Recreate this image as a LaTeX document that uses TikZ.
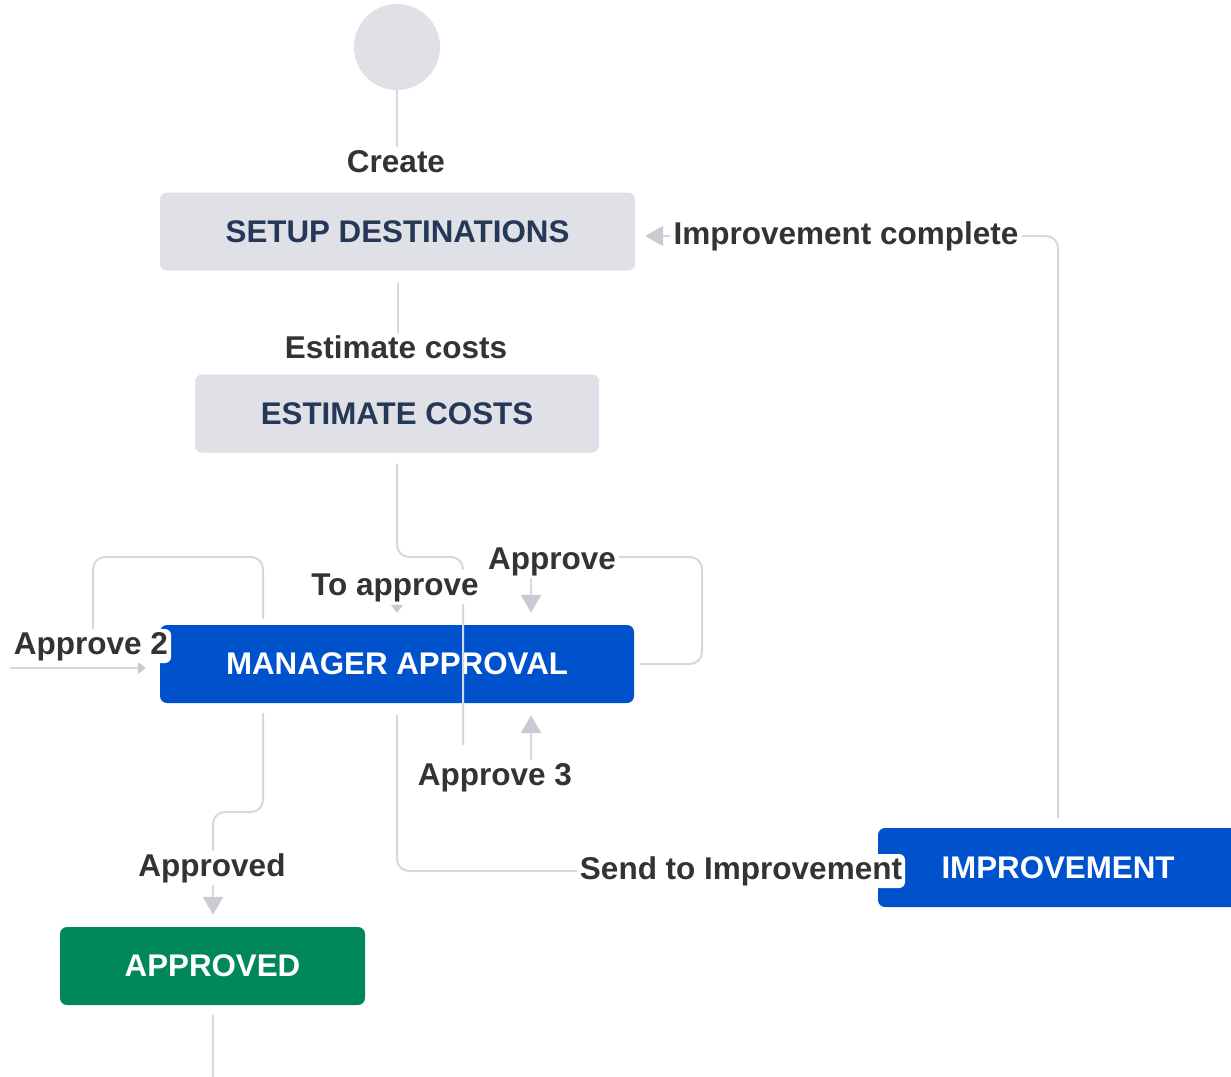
\documentclass[tikz,border=0pt]{standalone}
\usepackage{fontspec}
\setmainfont{Liberation Sans}
\usetikzlibrary{arrows.meta,calc}
\pgfdeclarelayer{back}
\pgfdeclarelayer{mid}
\pgfsetlayers{back,mid,main}
\definecolor{boxgray}{HTML}{DFE1E6}
\definecolor{navy}{HTML}{253858}
\definecolor{jblue}{HTML}{0052CC}
\definecolor{jgreen}{HTML}{00875A}
\definecolor{lgray}{HTML}{D5D8DD}
\definecolor{agray}{HTML}{C8CBD2}
\definecolor{ltext}{HTML}{333333}
\begin{document}
\begin{tikzpicture}[x=1pt,y=-1pt,
  state/.style={rounded corners=7pt, minimum height=78pt, font=\fontsize{31.3}{36}\selectfont\bfseries, inner sep=0pt},
  todo/.style={state, fill=boxgray, text=navy},
  prog/.style={state, fill=jblue, text=white},
  done/.style={state, fill=jgreen, text=white},
  lbl/.style={fill=white, text=ltext, rounded corners=6pt, inner sep=3pt, text height=22pt, text depth=6pt, font=\fontsize{31.5}{36}\selectfont\bfseries},
  conn/.style={draw=lgray, line width=2pt, rounded corners=12pt},
  tip/.style={-{Triangle[width=20pt,length=18pt,color=agray]}},
  smalltip/.style={-{Triangle[width=12pt,length=8pt,color=agray]}},
]
\path[use as bounding box] (0,0) rectangle (1231,1076);
\clip (0,0) rectangle (1231,1076);

\begin{pgfonlayer}{back}
\node[circle, fill=boxgray, minimum size=86pt, inner sep=0pt] (start) at (397,47) {};
\node[todo, minimum width=475pt] (setup) at (397.5,231.5) {SETUP DESTINATIONS};
\node[todo, minimum width=404pt] (est) at (397,413.5) {ESTIMATE COSTS};
\node[prog, minimum width=474pt] (mgr) at (397,664) {MANAGER APPROVAL};
\node[prog, minimum width=360pt, minimum height=79pt] (impr) at (1058,867.5) {IMPROVEMENT};
\node[done, minimum width=305pt] (appr) at (212.5,966) {APPROVED};
\end{pgfonlayer}

\node[lbl] (lCreate) at (396,164) {Create};
\node[lbl] (lEst) at (396,350) {Estimate costs};
\node[lbl] (lImp) at (846,236) {Improvement complete};
\node[lbl] (lTo) at (395,587) {To approve};
\node[lbl] (lAppr) at (552,561) {Approve};
\node[lbl] (lA2) at (91,646) {Approve 2};
\node[lbl] (lA3) at (495,777) {Approve 3};
\node[lbl] (lApd) at (212,868) {Approved};
\node[lbl] (lSend) at (741,871) {Send to Improvement};

\coordinate (bendB) at (463,557);
\coordinate (endB) at (463,745);
\coordinate (loopR) at (702,557);
\coordinate (loopL) at (93,557);
\coordinate (a2start) at (10,668);
\coordinate (apdBend) at (213,812);
\coordinate (bottomEnd) at (212.5,1090);
\coordinate (apx) at (531,0);
\coordinate (l2x) at (263,0);

\begin{pgfonlayer}{mid}
\draw[conn] (start.south) -- (lCreate.north -| start.south);
\draw[conn, shorten <=12pt] (setup.south) -- (lEst.north -| setup.south);
\draw[conn, shorten <=11pt] (est.south) |- (bendB) -- (endB);
\draw[conn, smalltip, shorten >=12pt] (lTo.south -| est.south) -- (mgr.north);
\draw[conn, shorten <=6pt] (mgr.east) -| (loopR) -- (loopR -| lAppr.east);
\draw[conn, tip, shorten >=12pt] (lAppr.south -| apx) -- (mgr.north -| apx);
\draw[conn, shorten <=6pt] (mgr.north -| l2x) |- (loopL) -- (lA2.north -| loopL);
\draw[conn, smalltip, shorten >=14pt] (a2start) -- (a2start -| mgr.west);
\draw[conn, tip, shorten >=12pt] (lA3.north -| apx) -- (mgr.south -| apx);
\draw[conn, shorten <=10pt] (mgr.south -| l2x) |- (apdBend) -- (lApd.north -| apdBend);
\draw[conn, tip, shorten >=12pt] (lApd.south -| apdBend) -- (appr.north -| apdBend);
\draw[conn, shorten <=12pt] (mgr.south) |- (lSend.west);
\draw[conn, shorten <=10pt] (impr.north) |- (lImp.east);
\draw[conn, tip, shorten >=10pt] (lImp.west) -- (lImp.west -| setup.east);
\draw[conn, shorten <=10pt] (appr.south) -- (bottomEnd);
\end{pgfonlayer}
\end{tikzpicture}
\end{document}
